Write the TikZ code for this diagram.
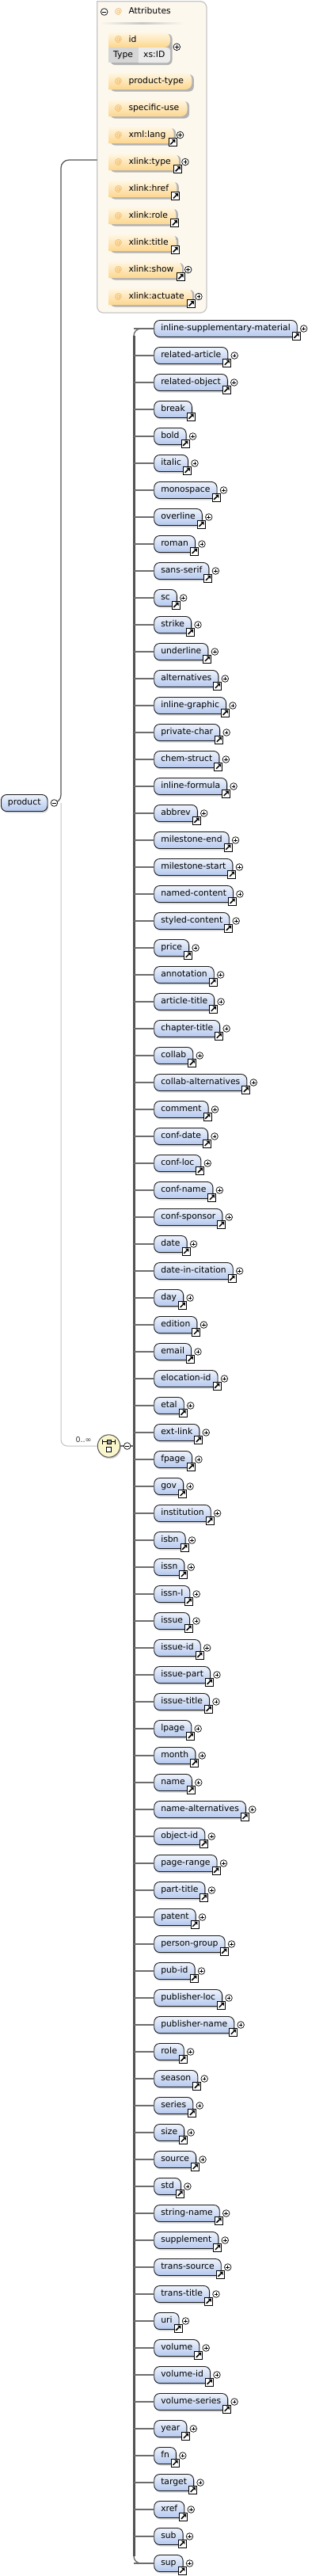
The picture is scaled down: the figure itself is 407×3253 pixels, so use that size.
\documentclass[tikz,border=0pt]{standalone}
\usepackage{fontspec}
\setmainfont{DejaVu Sans}
\usetikzlibrary{calc,shadows}
\pgfdeclarelayer{panel}
\pgfdeclarelayer{back}
\pgfsetlayers{panel,back,main}
\definecolor{elemtop}{RGB}{238,243,252}
\definecolor{elembot}{RGB}{180,200,238}
\definecolor{attrtop}{RGB}{255,247,228}
\definecolor{attrbot}{RGB}{252,214,142}
\definecolor{attrat}{RGB}{240,172,74}
\definecolor{panelbg}{RGB}{253,248,238}
\definecolor{panelline}{RGB}{198,198,198}
\definecolor{compfill}{RGB}{250,246,204}
\definecolor{busgray}{RGB}{82,82,82}
\definecolor{conngray}{RGB}{108,108,108}
\definecolor{palegray}{RGB}{190,190,190}
\newcommand{\txtsize}{\fontsize{10.8}{13}\selectfont}
\tikzset{
  elem/.style={draw=black!90, line width=0.9pt, rounded corners=7pt,
    top color=elemtop, bottom color=elembot, minimum height=21pt,
    inner ysep=0pt, inner xsep=8.5pt, text height=8pt, text depth=2.4pt,
    font=\txtsize, anchor=west,
    drop shadow={shadow xshift=1.2pt, shadow yshift=-2pt, opacity=0.35}},
  attrtext/.style={inner sep=0pt, anchor=west, text height=8pt, text depth=2.4pt, font=\txtsize},
  attrsign/.style={inner sep=0pt, text=attrat, font=\fontsize{9.5}{11}\selectfont},
  attrfill/.style={top color=attrtop, bottom color=attrbot},
  attrshadow/.style={fill=black!30},
  conn/.style={draw=conngray, line width=1.8pt},
  bus/.style={draw=busgray, line width=3pt},
  busthin/.style={draw=conngray, line width=1.4pt, rounded corners=9pt},
  darkconn/.style={draw=busgray, line width=1.2pt, rounded corners=10pt},
  paleconn/.style={draw=palegray, line width=1pt, rounded corners=8pt},
  comp/.style={circle, draw=busgray, line width=1pt, fill=compfill, minimum size=28.4pt, inner sep=0pt,
    drop shadow={shadow xshift=1.2pt, shadow yshift=-2pt, opacity=0.35}},
  linkicon/.pic={
    \draw[fill=white, line width=0.8pt] (-5,-5) rectangle (5,5);
    \draw[line width=1.5pt] (-2.8,2.8) -- (1.2,-1.2);
    \fill (3.3,-3.3) -- (3.3,0.9) -- (-0.9,-3.3) -- cycle;},
  plusicon/.pic={
    \draw[fill=white, line width=0.7pt] (0,0) circle (4.3pt);
    \draw[line width=0.8pt] (-2.3,0) -- (2.3,0) (0,-2.3) -- (0,2.3);},
  minusicon/.pic={
    \draw[fill=white, line width=0.7pt] (0,0) circle (4.3pt);
    \draw[line width=0.8pt] (-2.3,0) -- (2.3,0);}
}

\begin{document}
\begin{tikzpicture}[x=1pt, y=-1pt]
  \useasboundingbox (0,0) rectangle (407,3253);

  % attributes panel
  \begin{pgfonlayer}{panel}
    \draw[fill=panelbg, draw=panelline, line width=1.3pt]
      (122.7,1.7) [rounded corners=8pt] -- (261,1.7) -- (261,395) -- (122.7,395) [sharp corners] -- cycle;
    \shade[left color=panelbg, right color=panelbg, middle color=black!22] (126,28.6) rectangle (232,30.4);
  \end{pgfonlayer}
  \pic at (131.7,15) {minusicon};
  \node[attrsign] at (149.7,15) {@};
  \node[attrtext] (attrhead) at (162.3,15) {Attributes};

  % id attribute
  \node[attrsign] at (149.7,50.3) {@};
  \node[attrtext] (aid) at (162.3,50.3) {id};
  \node[attrtext] (aidtype) at (143,69.6) {Type};
  \node[attrtext] (aidval) at (181,69.6) {xs:ID};
  \begin{pgfonlayer}{back}
    \fill[attrshadow, rounded corners=6pt] (139.3,42.7) -- (217.5,42.7) -- (217.5,82) -- (139.3,82) -- cycle;
    \shade[attrfill] (137.3,60) -- (137.3,40.7) [rounded corners=8pt] -- (215,40.7) -- (215,60) [sharp corners] -- cycle;
    \fill[black!16] (137.3,60) rectangle (175,79.3);
    \fill[black!8] (175,60) [rounded corners=4pt] -- (215,60) -- (215,79.3) [sharp corners] -- (175,79.3) -- cycle;
  \end{pgfonlayer}
  \pic at (223.3,59.3) {plusicon};

  % other attributes
  \foreach \txt/\hasplus/\haslink [count=\i] in {product-type/0/0, specific-use/0/0, xml:lang/1/1,
      xlink:type/1/1, xlink:href/0/1, xlink:role/0/1, xlink:title/0/1, xlink:show/1/1, xlink:actuate/1/1} {
    \pgfmathsetmacro{\ay}{102.5+34*(\i-1)}
    \node[attrsign] at (149.7,\ay) {@};
    \node[attrtext] (a\i) at (162.3,\ay) {\txt};
    \begin{pgfonlayer}{back}
      \fill[attrshadow, rounded corners=6pt] (139.3,\ay-8.5) -- ($(a\i.east)+(12.5,-8.5)$) -- ($(a\i.east)+(12.5,13)$) -- (139.3,\ay+13) -- cycle;
      \shade[attrfill] (137.3,\ay+10.5) -- (137.3,\ay-10.5) [rounded corners=8pt] -- ($(a\i.east)+(10,-10.5)$) -- ($(a\i.east)+(10,10.5)$) [sharp corners] -- cycle;
    \end{pgfonlayer}
    \ifnum\haslink=1 \pic at ($(a\i.east)+(8.5,9)$) {linkicon}; \fi
    \ifnum\hasplus=1 \pic at ($(a\i.east)+(18,0)$) {plusicon}; \fi
  }

  % child elements of the compositor
  \foreach \txt/\hasplus [count=\i] in {inline-supplementary-material/1, related-article/1, related-object/1,
      break/0, bold/1, italic/1, monospace/1, overline/1, roman/1, sans-serif/1, sc/1, strike/1,
      underline/1, alternatives/1, inline-graphic/1, private-char/1, chem-struct/1, inline-formula/1,
      abbrev/1, milestone-end/1, milestone-start/1, named-content/1, styled-content/1, price/1,
      annotation/1, article-title/1, chapter-title/1, collab/1, collab-alternatives/1, comment/1,
      conf-date/1, conf-loc/1, conf-name/1, conf-sponsor/1, date/1, date-in-citation/1, day/1,
      edition/1, email/1, elocation-id/1, etal/1, ext-link/1, fpage/1, gov/1, institution/1, isbn/1,
      issn/1, issn-l/1, issue/1, issue-id/1, issue-part/1, issue-title/1, lpage/1, month/1, name/1,
      name-alternatives/1, object-id/1, page-range/1, part-title/1, patent/1, person-group/1,
      pub-id/1, publisher-loc/1, publisher-name/1, role/1, season/1, series/1, size/1, source/1,
      std/1, string-name/1, supplement/1, trans-source/1, trans-title/1, uri/1, volume/1,
      volume-id/1, volume-series/1, year/1, fn/1, target/1, xref/1, sub/1, sup/1} {
    \pgfmathsetmacro{\ey}{415+34*(\i-1)}
    \coordinate (b\i) at (169,\ey);
    \draw[conn] (b\i) -- (194.3,\ey);
    \node[elem] (e\i) at (194.3,\ey) {\txt};
    \pic at ($(e\i.east)+(-1.5,9)$) {linkicon};
    \ifnum\hasplus=1 \pic at ($(e\i.east)+(8,0)$) {plusicon}; \fi
  }
  \begin{pgfonlayer}{back}
    \draw[busthin] (e1.west) -- (b1) -- (b84) -- (e84.west);
    \draw[bus] ($(b1)+(0,9)$) -- ($(b84)+(0,-9)$);
  \end{pgfonlayer}

  % compositor
  \coordinate (busmid) at (169,1826);
  \draw[conn] (137.5,1826) -- (busmid);
  \node[comp] (comp) at (137.5,1826) {};
  \draw[line width=0.9pt] (129.3,1820.7) -- (145.7,1820.7) (129.3,1817.7) -- (129.3,1823.7) (145.7,1817.7) -- (145.7,1823.7);
  \draw[fill=black!40, line width=0.6pt] (135,1818.2) rectangle (140,1823.2);
  \draw[fill=white, line width=0.8pt] (134.5,1827) rectangle (140.5,1833);
  \pic at (160.7,1826) {minusicon};
  \node[font=\fontsize{9.5}{11}\selectfont, text=black!80, inner sep=0pt] (occ) at (105.5,1818.5) {0..∞};

  % root element
  \node[elem] (prod) at (1,1014) {product};
  \coordinate (prodm) at ($(prod.east)+(8,0)$);
  \coordinate (pj) at (77,1014);
  \coordinate (attrin) at (122.7,202);
  \draw[darkconn] (attrin) -- (77,202) -- (pj) -- (prodm);
  \draw[paleconn] (comp.west) -- (77,1826) -- (pj);
  \pic at (prodm) {minusicon};
\end{tikzpicture}
\end{document}
